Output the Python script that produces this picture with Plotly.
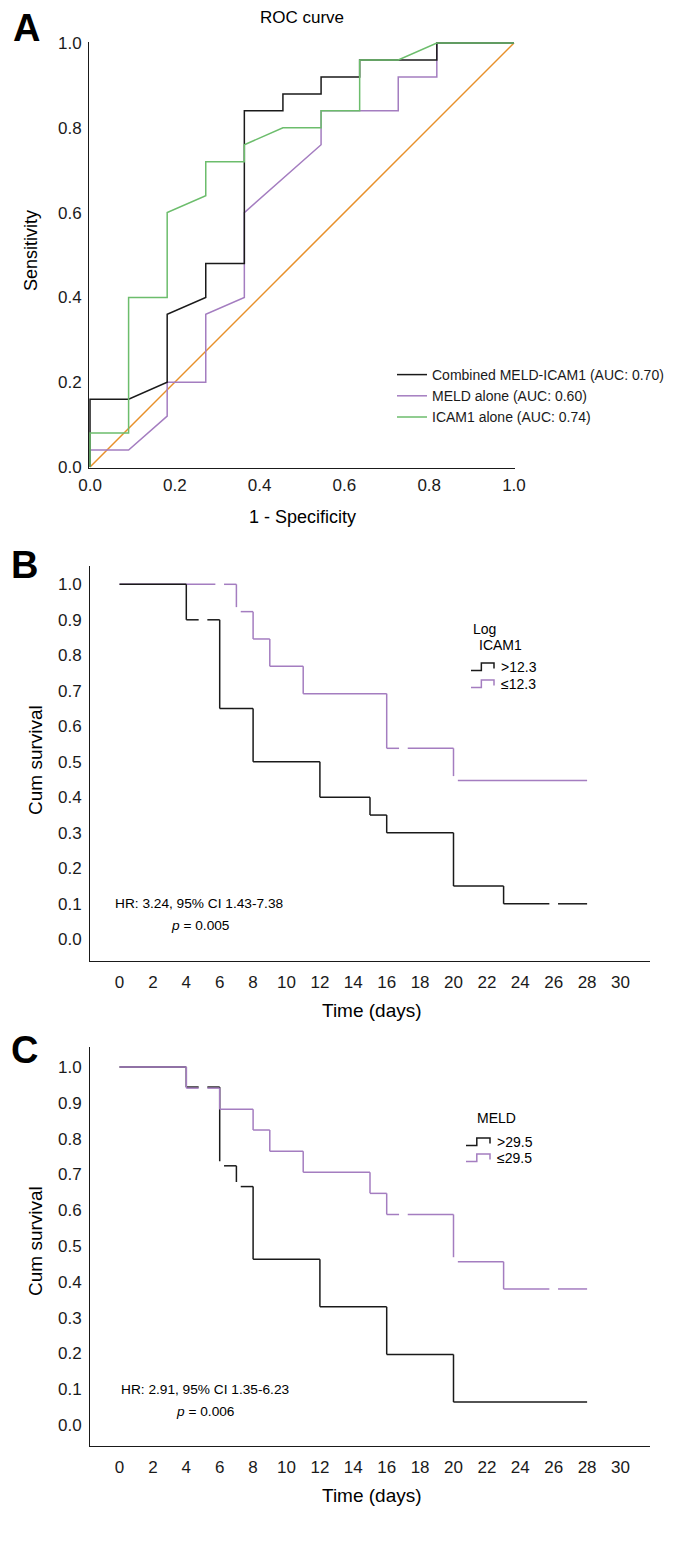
import plotly.graph_objects as go

# ---------------- DATA ----------------
# Panel A: ROC curves (1 - specificity, sensitivity)
roc_combined_fpr = [0, 0, 0.091, 0.182, 0.182, 0.273, 0.273, 0.364, 0.364, 0.455, 0.455, 0.545, 0.545, 0.636, 0.636, 0.818, 0.818, 1.0]
roc_combined_tpr = [0, 0.16, 0.16, 0.20, 0.36, 0.40, 0.48, 0.48, 0.84, 0.84, 0.88, 0.88, 0.92, 0.92, 0.96, 0.96, 1.0, 1.0]
roc_meld_fpr = [0, 0, 0.091, 0.182, 0.182, 0.273, 0.273, 0.364, 0.364, 0.545, 0.545, 0.727, 0.727, 0.818, 0.818, 1.0]
roc_meld_tpr = [0, 0.04, 0.04, 0.12, 0.20, 0.20, 0.36, 0.40, 0.60, 0.76, 0.84, 0.84, 0.92, 0.92, 1.0, 1.0]
roc_icam_fpr = [0, 0, 0.091, 0.091, 0.182, 0.182, 0.273, 0.273, 0.364, 0.364, 0.455, 0.545, 0.545, 0.636, 0.636, 0.727, 0.818, 1.0]
roc_icam_tpr = [0, 0.08, 0.08, 0.40, 0.40, 0.60, 0.64, 0.72, 0.72, 0.76, 0.80, 0.80, 0.84, 0.84, 0.96, 0.96, 1.0, 1.0]
ref_line_x = [0, 1]
ref_line_y = [0, 1]
roc_labels = ["Combined MELD-ICAM1 (AUC: 0.70)", "MELD alone (AUC: 0.60)", "ICAM1 alone (AUC: 0.74)"]

# Panel B: Kaplan-Meier by Log ICAM1
b_high_times = [4, 6, 8, 12, 15, 16, 20, 23]
b_high_surv = [0.90, 0.65, 0.50, 0.40, 0.35, 0.30, 0.15, 0.10]
b_high_censor = [5, 26]
b_low_times = [7, 8, 9, 11, 16, 20]
b_low_surv = [0.923, 0.846, 0.769, 0.692, 0.538, 0.447]
b_low_censor = [6, 7, 17, 20]
b_labels = [">12.3", "≤12.3"]

# Panel C: Kaplan-Meier by MELD
c_high_times = [4, 6, 7, 8, 12, 16, 20]
c_high_surv = [0.944, 0.724, 0.666, 0.463, 0.330, 0.197, 0.064]
c_high_censor = [5, 6, 7]
c_low_times = [4, 6, 8, 9, 11, 15, 16, 20, 23]
c_low_surv = [0.941, 0.882, 0.824, 0.765, 0.706, 0.647, 0.588, 0.456, 0.380]
c_low_censor = [5, 17, 20, 26]
c_labels = [">29.5", "≤29.5"]

follow_up_end = 28
x_ticks_days = list(range(0, 31, 2))
y_ticks_surv = [round(0.1 * i, 1) for i in range(11)]
y_ticks_roc = [0.0, 0.2, 0.4, 0.6, 0.8, 1.0]

# ---------------- STYLE ----------------
W, H = 692, 1548
OFF = 8  # page body margin
BLACK = "#1a1a1a"
PURPLE = "#a47dc0"
GREEN = "#6cbd6c"
ORANGE = "#e8902a"
FONT = "Liberation Sans, Arial, sans-serif"


def px(x):
    return (x - OFF) / W


def py(y):
    return 1 - (y - OFF) / H


def km_segments(times, surv, censors, t_end, hx=0.26, hy=0.0127):
    # build step polyline
    pts = [(0.0, 1.0)]
    prev = 1.0
    for t, s in zip(times, surv):
        pts.append((t, prev))
        pts.append((t, s))
        prev = s
    pts.append((t_end, prev))

    def S(t):
        v = 1.0
        for tt, ss in zip(times, surv):
            if tt <= t:
                v = ss
        return v

    def cut(intervals, lo, hi):
        new = []
        for a, b in intervals:
            if hi <= a or lo >= b:
                new.append((a, b))
            else:
                if lo > a:
                    new.append((a, lo))
                if hi < b:
                    new.append((hi, b))
        return new

    boxes = [(c, S(c)) for c in censors]
    xs, ys = [], []
    for (x0, y0), (x1, y1) in zip(pts[:-1], pts[1:]):
        if x0 == x1 and y0 == y1:
            continue
        if y0 == y1:  # horizontal
            intervals = [(x0, x1)]
            for cx, cy in boxes:
                if abs(y0 - cy) <= hy:
                    intervals = cut(intervals, cx - hx, cx + hx)
            for a, b in intervals:
                xs += [a, b, None]
                ys += [y0, y0, None]
        else:  # vertical
            intervals = [(min(y0, y1), max(y0, y1))]
            for cx, cy in boxes:
                if abs(x0 - cx) <= hx:
                    intervals = cut(intervals, cy - hy, cy + hy)
            for a, b in intervals:
                xs += [x0, x0, None]
                ys += [a, b, None]
    return xs, ys


fig = go.Figure()

# ---- Panel A traces ----
fig.add_trace(go.Scatter(x=ref_line_x, y=ref_line_y, mode="lines", line=dict(color=ORANGE, width=1.5),
                         showlegend=False, xaxis="x", yaxis="y"))
fig.add_trace(go.Scatter(x=roc_meld_fpr, y=roc_meld_tpr, mode="lines", line=dict(color=PURPLE, width=1.5),
                         name=roc_labels[1], legendrank=2, xaxis="x", yaxis="y"))
fig.add_trace(go.Scatter(x=roc_combined_fpr, y=roc_combined_tpr, mode="lines", line=dict(color=BLACK, width=1.5),
                         name=roc_labels[0], legendrank=1, xaxis="x", yaxis="y"))
fig.add_trace(go.Scatter(x=roc_icam_fpr, y=roc_icam_tpr, mode="lines", line=dict(color=GREEN, width=1.5),
                         name=roc_labels[2], legendrank=3, xaxis="x", yaxis="y"))

# ---- Panel B traces ----
for times, surv, cens, col in [(b_low_times, b_low_surv, b_low_censor, PURPLE),
                               (b_high_times, b_high_surv, b_high_censor, BLACK)]:
    xs, ys = km_segments(times, surv, cens, follow_up_end)
    fig.add_trace(go.Scatter(x=xs, y=ys, mode="lines", line=dict(color=col, width=1.5),
                             showlegend=False, xaxis="x2", yaxis="y2", connectgaps=False))

# ---- Panel C traces ----
for times, surv, cens, col in [(c_high_times, c_high_surv, c_high_censor, BLACK),
                               (c_low_times, c_low_surv, c_low_censor, PURPLE)]:
    xs, ys = km_segments(times, surv, cens, follow_up_end)
    fig.add_trace(go.Scatter(x=xs, y=ys, mode="lines", line=dict(color=col, width=1.5),
                             showlegend=False, xaxis="x3", yaxis="y3", connectgaps=False))

axis_common = dict(showgrid=False, zeroline=False, showline=True, linecolor=BLACK, linewidth=1,
                   ticks="", tickfont=dict(family=FONT, size=17, color=BLACK), fixedrange=True,
                   automargin=False)

km_x_range = [(90 - 119.5) / 16.7, (650 - 119.5) / 16.7]

fig.update_layout(
    width=W, height=H,
    margin=dict(l=0, r=0, t=0, b=0, pad=0, autoexpand=False),
    paper_bgcolor="white", plot_bgcolor="white",
    font=dict(family=FONT, color=BLACK),
    showlegend=True,
    legend=dict(x=px(392), y=py(359), xanchor="left", yanchor="top",
                font=dict(family=FONT, size=14, color=BLACK), bgcolor="rgba(0,0,0,0)",
                tracegroupgap=0, itemwidth=30),
    xaxis=dict(domain=[px(89), px(515)], range=[-0.0024, 1.0024], anchor="y",
               tickvals=y_ticks_roc, ticktext=[f"{v:.1f}" for v in y_ticks_roc], ticklabelstandoff=2, **axis_common),
    yaxis=dict(domain=[py(468), py(42)], range=[-0.0024, 1.0024], anchor="x",
               tickvals=y_ticks_roc, ticktext=[f"{v:.1f}" for v in y_ticks_roc], ticklabelstandoff=3, **axis_common),
    xaxis2=dict(domain=[px(90), px(650)], range=km_x_range, anchor="y2",
                tickvals=x_ticks_days, ticklabelstandoff=6, **axis_common),
    yaxis2=dict(domain=[py(961), py(566)], range=[(939.3 - 961) / 355, (939.3 - 566) / 355], anchor="x2",
                tickvals=y_ticks_surv, ticktext=[f"{v:.1f}" for v in y_ticks_surv], ticklabelstandoff=4, **axis_common),
    xaxis3=dict(domain=[px(90), px(650)], range=km_x_range, anchor="y3",
                tickvals=x_ticks_days, ticklabelstandoff=6, **axis_common),
    yaxis3=dict(domain=[py(1446), py(1047)], range=[(1425 - 1446) / 358, (1425 - 1047) / 358], anchor="x3",
                tickvals=y_ticks_surv, ticktext=[f"{v:.1f}" for v in y_ticks_surv], ticklabelstandoff=4, **axis_common),
)


def ann(text, x, y, size=13, xanchor="center", textangle=0, bold=False):
    fig.add_annotation(text=f"<b>{text}</b>" if bold else text, x=px(x), y=py(y), xref="paper", yref="paper",
                       xanchor=xanchor, yanchor="middle", showarrow=False, textangle=textangle,
                       font=dict(family=FONT, size=size, color="black"))


# Panel letters
ann("A", 26, 28, size=38, bold=True)
ann("B", 24, 565, size=38, bold=True)
ann("C", 24, 1050, size=38, bold=True)

# Panel A texts
ann("ROC curve", 302, 18, size=17)
ann("Sensitivity", 31, 250, size=18, textangle=-90)
ann("1 - Specificity", 302, 517, size=18)

# Panel B texts
ann("Cum survival", 35, 760, size=19, textangle=-90)
ann("Time (days)", 372, 1010, size=19)
ann("HR: 3.24, 95% CI 1.43-7.38", 113, 903, size=13.7, xanchor="left")
ann("<i>p</i> = 0.005", 169, 925, size=13.7, xanchor="left")
ann("Log", 484, 629, size=14)
ann("ICAM1", 500, 645, size=14)
ann(b_labels[0], 499, 667, size=14, xanchor="left")
ann(b_labels[1], 499, 684, size=14, xanchor="left")

# Panel C texts
ann("Cum survival", 35, 1241, size=19, textangle=-90)
ann("Time (days)", 372, 1495, size=19)
ann("HR: 2.91, 95% CI 1.35-6.23", 119, 1389, size=13.7, xanchor="left")
ann("<i>p</i> = 0.006", 174, 1411, size=13.7, xanchor="left")
ann("MELD", 496, 1118, size=14)
ann(c_labels[0], 495, 1142, size=14, xanchor="left")
ann(c_labels[1], 495, 1158, size=14, xanchor="left")


def step_icon(x0, x1, yc, color):
    xm = x0 + (x1 - x0) * 0.45
    ylow, yhigh, yend = yc + 3.5, yc - 4, yc + 1.5
    path = (f"M {px(x0)},{py(ylow)} L {px(xm)},{py(ylow)} L {px(xm)},{py(yhigh)} "
            f"L {px(x1)},{py(yhigh)} L {px(x1)},{py(yend)}")
    fig.add_shape(type="path", path=path, xref="paper", yref="paper",
                  line=dict(color=color, width=1.5))


step_icon(471, 494, 667, BLACK)
step_icon(471, 494, 684, PURPLE)
step_icon(466, 490, 1142, BLACK)
step_icon(466, 490, 1158, PURPLE)

fig.write_html("out.html")
